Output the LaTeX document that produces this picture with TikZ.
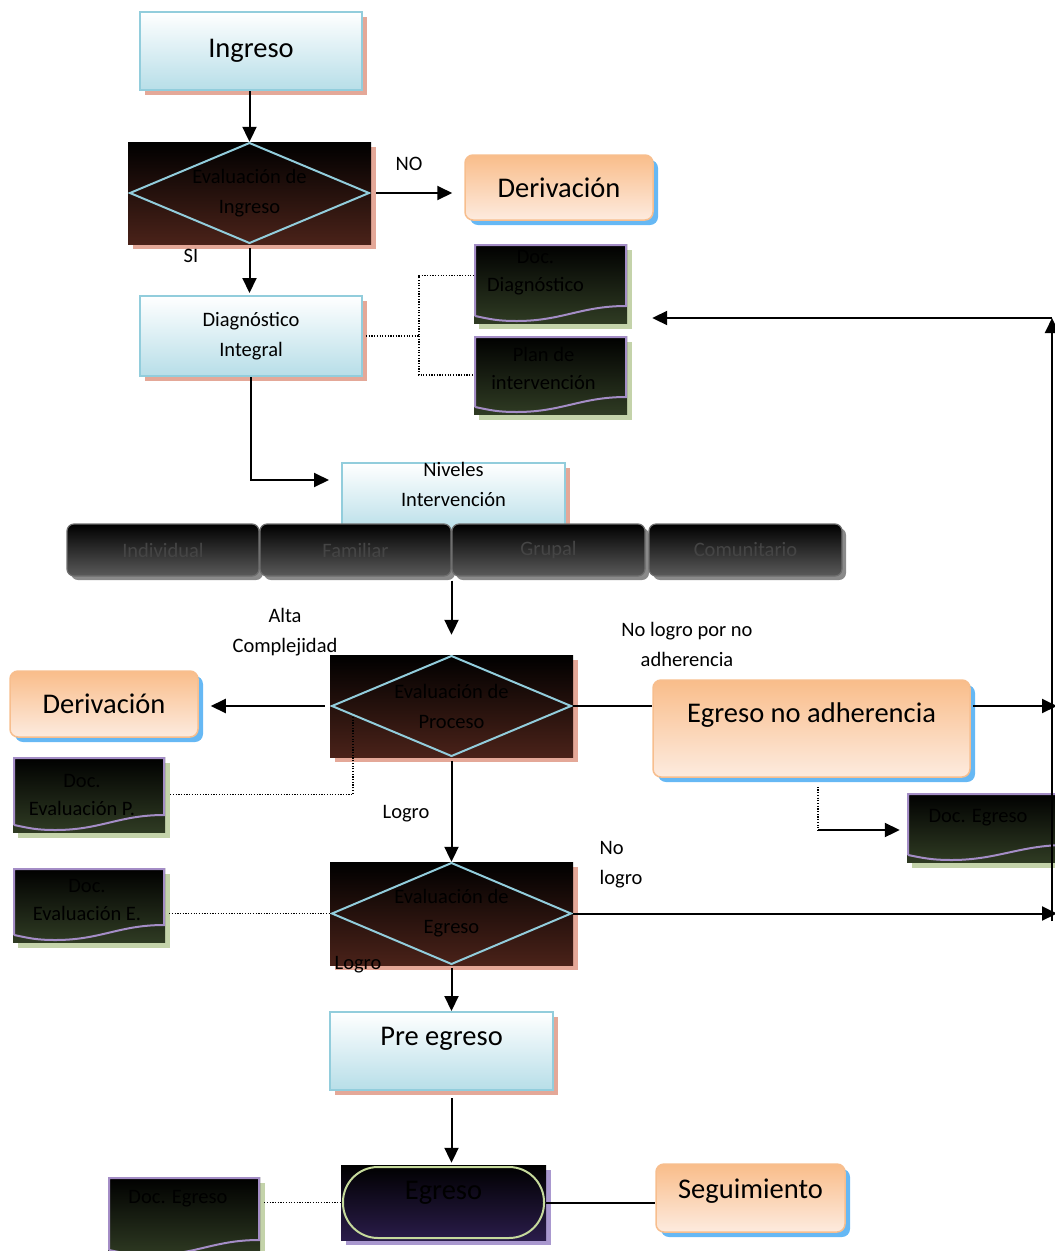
\documentclass[tikz,border=0pt]{standalone}
\usepackage{fontspec}
\setmainfont{Carlito}
\usetikzlibrary{arrows.meta,shadows,calc}
\definecolor{boxline}{HTML}{92CDDC}
\definecolor{boxfill}{HTML}{B7DEE8}
\definecolor{pinksh}{HTML}{E4A898}
\definecolor{orline}{HTML}{F7BE8E}
\definecolor{ortop}{HTML}{F9BD8A}
\definecolor{orbot}{HTML}{FDEBDF}
\definecolor{bluesh}{HTML}{66B8F4}
\definecolor{brownbot}{HTML}{4A2219}
\definecolor{olivebot}{HTML}{2F3B23}
\definecolor{docline}{HTML}{A48DC6}
\definecolor{greensh}{HTML}{C4D3AA}
\definecolor{purplebot}{HTML}{2A1C4A}
\definecolor{purplesh}{HTML}{A998CF}
\definecolor{termline}{HTML}{C6DA9C}
\definecolor{lvlline}{HTML}{6E6E6E}
\definecolor{lvlbot}{HTML}{5A5A5A}
\definecolor{lvlsh}{HTML}{8A8A8A}
\definecolor{lvltxt}{HTML}{454545}

\tikzset{
  bigtxt/.style={font=\fontsize{28.5}{32}\selectfont},
  midtxt/.style={font=\fontsize{20.5}{30}\selectfont, align=center},
  doctxt/.style={font=\fontsize{20.5}{28}\selectfont, align=center, text=black},
  procbox/.style={rectangle, draw=boxline, line width=2pt, top color=white, bottom color=boxfill,
    drop shadow={shadow xshift=5pt, shadow yshift=-5pt, fill=pinksh, opacity=1}, inner sep=0pt, align=center},
  derbox/.style={rectangle, rounded corners=8pt, draw=orline, line width=1.5pt, top color=ortop, bottom color=orbot,
    drop shadow={shadow xshift=5pt, shadow yshift=-5pt, fill=bluesh, opacity=1}, inner sep=0pt, bigtxt},
  decbox/.style={rectangle, inner sep=0pt, minimum width=243pt, minimum height=102pt, top color=black, bottom color=brownbot,
    drop shadow={shadow xshift=5pt, shadow yshift=-5pt, fill=pinksh, opacity=1}, midtxt, text=black,
    path picture={\draw[boxline, line width=2pt] ([xshift=2pt]path picture bounding box.west)
      -- ([yshift=-1pt]path picture bounding box.north) -- ([xshift=-2pt]path picture bounding box.east)
      -- ([yshift=1pt]path picture bounding box.south) -- cycle;}},
  docbox/.style={rectangle, inner sep=0pt, top color=black, bottom color=olivebot,
    drop shadow={shadow xshift=5pt, shadow yshift=-6pt, fill=greensh, opacity=1},
    path picture={\draw[docline, line width=2pt]
      ($(path picture bounding box.south west)+(1pt,7pt)$) -- ($(path picture bounding box.north west)+(1pt,-1pt)$)
      -- ($(path picture bounding box.north east)+(-1pt,-1pt)$) -- ($(path picture bounding box.south east)+(-1pt,17pt)$)
      .. controls +(-45pt,0pt) and +(45pt,0pt) .. ($(path picture bounding box.south west)!0.28!(path picture bounding box.south east)+(0pt,2pt)$)
      .. controls +(-20pt,0pt) and +(15pt,-3pt) .. ($(path picture bounding box.south west)+(1pt,7pt)$);}},
  termbox/.style={rectangle, inner sep=0pt, top color=black, bottom color=purplebot,
    drop shadow={shadow xshift=5pt, shadow yshift=-5pt, fill=purplesh, opacity=1},
    path picture={\draw[termline, line width=2pt, rounded corners=35pt]
      ($(path picture bounding box.south west)+(2pt,2pt)$) rectangle ($(path picture bounding box.north east)+(-2pt,-2pt)$);}},
  lvlbox/.style={rectangle, rounded corners=7pt, draw=lvlline, line width=1.2pt, top color=black, bottom color=lvlbot,
    drop shadow={shadow xshift=4pt, shadow yshift=-4pt, fill=lvlsh, opacity=1}, text=lvltxt,
    font=\fontsize{20.5}{22}\selectfont, minimum height=52pt, inner sep=0pt},
  arr/.style={line width=2pt, -{Triangle[length=15pt,width=14pt]}},
  link/.style={line width=2pt},
  dotlink/.style={line width=1.2pt, dash pattern=on 1.2pt off 1.5pt}
}

\begin{document}
\begin{tikzpicture}[x=1pt,y=-1pt]
\useasboundingbox (0,0) rectangle (1055,1251);

\node[procbox, bigtxt, minimum width=222pt, minimum height=78pt] (ingreso) at (251,51) {Ingreso};
\node[decbox] (evi) at (249.5,193) {Evaluación de\\Ingreso};
\node[derbox, minimum width=188pt, minimum height=65pt] (der1) at (559,187.5) {Derivación};
\node[procbox, midtxt, minimum width=222pt, minimum height=80pt] (diag) at (251,336) {Diagnóstico\\Integral};
\node[docbox, minimum width=153pt, minimum height=79pt,
  label={[doctxt, xshift=-15pt, yshift=11pt]center:Doc.\\Diagnóstico}] (docdiag) at (550.5,283.5) {};
\node[docbox, minimum width=153pt, minimum height=78pt,
  label={[doctxt, xshift=-7pt, yshift=7pt]center:Plan de\\intervención}] (docplan) at (550.5,375) {};

% niveles
\node[procbox, minimum width=223pt, minimum height=70pt,
  label={[midtxt, yshift=14pt]center:Niveles\\Intervención}] (niveles) at (453.5,498) {};
\node[lvlbox, minimum width=192pt] (indiv) at (163,550) {Individual};
\node[lvlbox, minimum width=191pt] (famil) at (355.5,550) {Familiar};
\node[lvlbox, minimum width=193pt] (grupal) at (548.5,550) {Grupal};
\node[lvlbox, minimum width=193pt] (comun) at (745.5,550) {Comunitario};

% proceso
\node[decbox] (evp) at (451.5,706) {Evaluación de\\Proceso};
\node[derbox, minimum width=188pt, minimum height=66pt] (der2) at (104,704) {Derivación};
\node[docbox, minimum width=152pt, minimum height=75pt,
  label={[doctxt, xshift=-7pt]center:Doc.\\Evaluación P.}] (docevp) at (89,794.5) {};
\node[derbox, minimum width=317pt, minimum height=97pt,
  label={[bigtxt, yshift=13pt]center:Egreso no adherencia}] (ena) at (811.5,728.5) {};
\node[docbox, minimum width=160pt, minimum height=69pt,
  label={[doctxt, xshift=-9pt, yshift=10pt]center:Doc. Egreso}] (docegr1) at (987,827.5) {};

% egreso
\node[decbox, minimum height=103pt] (eve) at (451.5,913.5) {Evaluación de\\Egreso};
\node[docbox, minimum width=152pt, minimum height=74pt,
  label={[doctxt, xshift=-2pt, yshift=5pt]center:Doc.\\Evaluación E.}] (doceve) at (89,905) {};
\node[procbox, minimum width=223pt, minimum height=78pt,
  label={[bigtxt, yshift=12pt]center:Pre egreso}] (pre) at (441.5,1051) {};
\node[termbox, minimum width=205pt, minimum height=75pt,
  label={[bigtxt, text=black, yshift=10pt]center:Egreso}] (egr) at (443.5,1202.5) {};
\node[docbox, minimum width=152pt, minimum height=80pt,
  label={[doctxt, xshift=-6pt, yshift=18pt]center:Doc. Egreso}] (docegr2) at (184,1217) {};
\node[derbox, minimum width=189pt, minimum height=68pt,
  label={[bigtxt, yshift=7pt]center:Seguimiento}] (seg) at (750.5,1198) {};

% textos de las ramas
\node[midtxt] (lblno) at (409,164) {NO};
\node[midtxt] (lblsi) at (191,256) {SI};
\node[midtxt] (lblalta) at (285,632) {Alta\\Complejidad};
\node[midtxt] (lblnoadh) at (687,644) {No logro por no\\adherencia};
\node[midtxt] (lbllogro) at (406,814) {Logro};
\node[midtxt, align=left] (lblnologro) at (621,865) {No\\logro};
\node[midtxt] (lbllogro2) at (358,965) {Logro};

\coordinate (diagdot) at (419,336);
\coordinate (evpdot) at (353,716);
\coordinate (enadot) at (818,830);
\coordinate (rtop) at (1052,318);
\coordinate (rbot) at (1052,921);

\draw[arr] (evi.north |- ingreso.south) -- (evi.north);
\draw[arr, shorten <=5pt, shorten >=12pt] (evi.east) -- (evi.east -| der1.west);
\draw[arr, shorten <=4pt, shorten >=2pt] (evi.south) -- (evi.south |- diag.north);
\draw[dotlink, shorten <=3pt] (diag.east) -- (diagdot) |- ([yshift=8pt]docdiag.west);
\draw[dotlink] (diagdot) |- (docplan.west);
\draw[arr, shorten >=12pt] (diag.south) |- ([yshift=18pt]niveles.west);
\draw[arr, shorten <=4pt, shorten >=20pt] (evp.north |- grupal.south) -- (evp.north);
\draw[arr, shorten <=5pt, shorten >=12pt] (evp.west) -- (evp.west -| der2.east);
\draw[dotlink, shorten <=5pt] (docevp.east) -| (evpdot);
\draw[link] (evp.east) -- (evp.east -| ena.west);
\draw[arr, shorten <=2pt] (evp.east -| ena.east) -- ([xshift=5pt]evp.east -| rtop);
\draw[dotlink, shorten <=9pt] (enadot |- ena.south) -- (enadot);
\draw[arr, shorten >=7pt] (enadot) -- (enadot -| docegr1.west);
\draw[arr, shorten <=4pt] (evp.south) -- (eve.north);
\draw[dotlink, shorten <=4pt] (eve.west -| doceve.east) -- (eve.west);
\draw[arr] (eve.east) -- ([xshift=5pt]eve.east -| rtop);
\draw[arr] (rbot) -- (rtop);
\draw[arr, shorten >=25pt] (rtop) -- (rtop -| docdiag.east);
\draw[arr, shorten <=3pt] (eve.south) -- (eve.south |- pre.north);
\draw[arr, shorten <=7pt, shorten >=2pt] (eve.south |- pre.south) -- (eve.south |- egr.north);
\draw[dotlink, shorten <=4pt] (egr.west -| docegr2.east) -- (egr.west);
\draw[link] (egr.east) -- (egr.east -| seg.west);
\end{tikzpicture}
\end{document}
